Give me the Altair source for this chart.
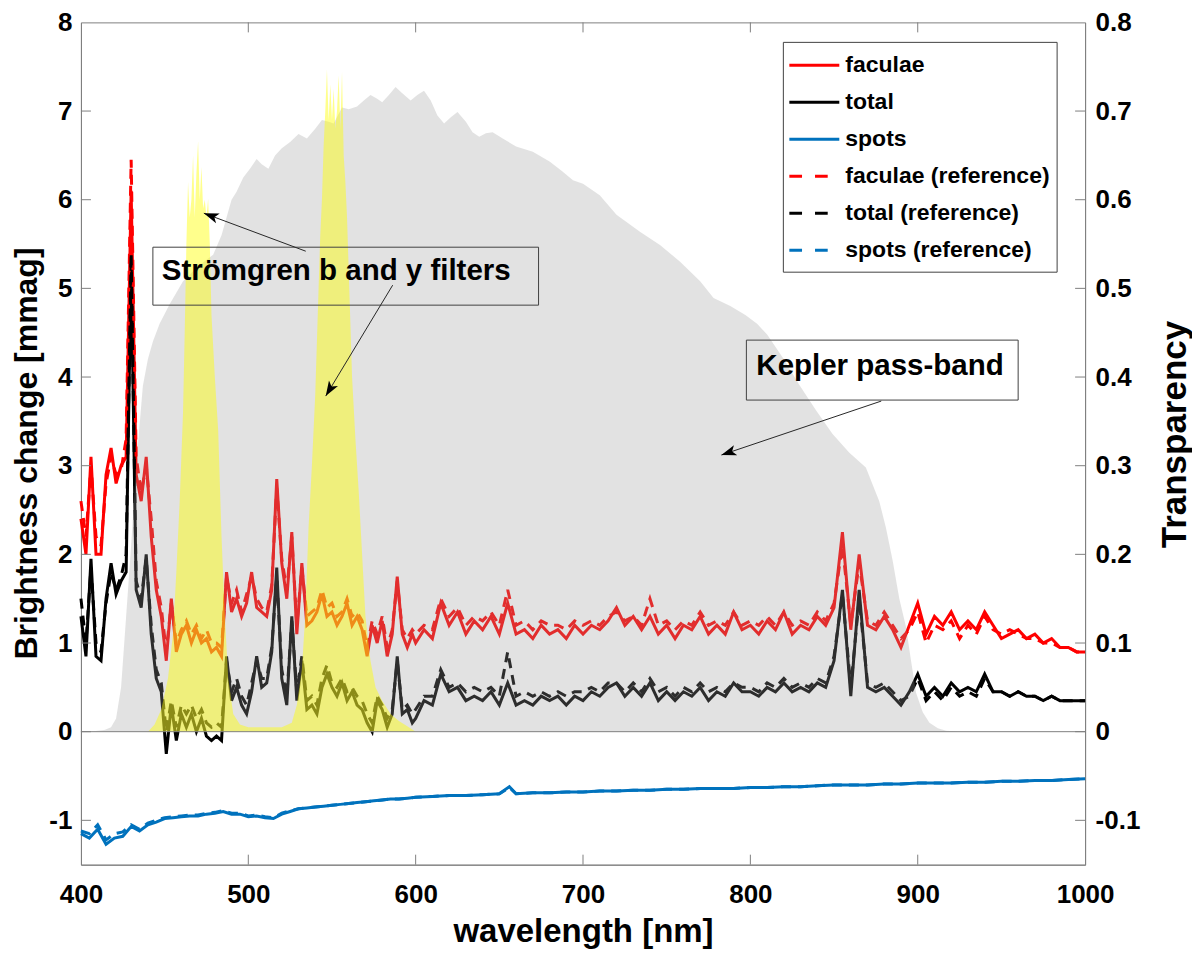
import altair as alt
import pandas as pd

# wavelength grid of the brightness-change curves (nm)
WL = list(range(400, 600, 3)) + list(range(600, 1001, 5))

FACULAE = [
    2.4, 2.0, 3.1, 2.0, 2.0, 2.9, 3.2, 2.8, 3.0, 3.1,
    6.1, 2.9, 2.6, 3.1, 2.2, 1.6, 1.3, 0.8, 1.5, 0.9,
    1.1, 1.2, 1.0, 1.15, 1.0, 1.05, 0.9, 0.95, 0.85, 1.8,
    1.35, 1.5, 1.3, 1.45, 1.8, 1.4, 1.35, 1.3, 1.6, 2.85,
    1.9, 1.5, 2.25, 1.1, 1.9, 1.2, 1.25, 1.35, 1.55, 1.3,
    1.35, 1.2, 1.3, 1.45, 1.2, 1.3, 1.15, 0.85, 1.2, 1.0,
    1.25, 0.85, 1.1, 1.75, 1.1, 0.95, 1.1,
    1.0, 1.15, 1.05, 1.45, 1.2, 1.35, 1.1, 1.25, 1.15, 1.3,
    1.1, 1.45, 1.1, 1.15, 1.05, 1.2, 1.1, 1.15, 1.05, 1.2,
    1.1, 1.2, 1.15, 1.25, 1.4, 1.2, 1.3, 1.15, 1.3, 1.1,
    1.2, 1.05, 1.2, 1.15, 1.3, 1.1, 1.2, 1.1, 1.35, 1.15,
    1.2, 1.1, 1.25, 1.15, 1.35, 1.1, 1.2, 1.15, 1.3, 1.2,
    1.4, 2.25, 1.15, 2.0, 1.2, 1.15, 1.3, 1.15, 0.95, 1.2,
    1.45, 1.1, 1.3, 1.2, 1.35, 1.15, 1.25, 1.15, 1.35, 1.2,
    1.05, 1.1, 1.15, 1.05, 1.1, 1.0, 1.05, 0.95, 0.95, 0.9,
    0.9,
]
TOTAL = [
    1.3, 0.85, 1.95, 0.85, 0.8, 1.5, 1.9, 1.55, 1.7, 1.8,
    5.3, 1.6, 1.4, 2.0, 1.1, 0.6, 0.45, -0.25, 0.3, -0.1,
    0.2, 0.05, 0.2, 0.0, 0.15, -0.05, -0.1, -0.05, -0.1, 0.85,
    0.35, 0.5, 0.3, 0.2, 0.45, 0.85, 0.5, 0.55, 0.9, 1.85,
    0.6, 0.3, 1.3, 0.35, 0.8, 0.25, 0.3, 0.2, 0.5, 0.65,
    0.5, 0.4, 0.55, 0.35, 0.45, 0.3, 0.25, 0.1, 0.0, 0.35,
    0.25, 0.05, 0.2, 0.85, 0.2, 0.25, 0.1,
    0.15, 0.35, 0.3, 0.65, 0.45, 0.5, 0.35, 0.4, 0.35, 0.45,
    0.3, 0.55, 0.3, 0.35, 0.3, 0.4, 0.35, 0.4, 0.3, 0.4,
    0.35, 0.45, 0.4, 0.5, 0.55, 0.4, 0.5, 0.4, 0.55, 0.35,
    0.45, 0.35, 0.45, 0.4, 0.5, 0.35, 0.45, 0.4, 0.55, 0.45,
    0.45, 0.4, 0.5, 0.45, 0.55, 0.45, 0.5, 0.45, 0.55, 0.5,
    0.8, 1.6, 0.4, 1.6, 0.5, 0.45, 0.5, 0.4, 0.3, 0.45,
    0.65, 0.4, 0.5, 0.4, 0.55, 0.45, 0.5, 0.45, 0.65, 0.45,
    0.45, 0.4, 0.45, 0.4, 0.4, 0.35, 0.4, 0.35, 0.35, 0.35,
    0.35,
]
FACULAE_REF = [
    2.6, 2.2, 3.0, 2.2, 2.1, 2.8, 3.1, 2.9, 2.95, 3.3,
    6.45, 3.1, 2.7, 3.0, 2.4, 1.7, 1.4, 0.9, 1.45, 1.0,
    1.15, 1.25, 1.1, 1.2, 1.05, 1.15, 1.0, 1.0, 0.95, 1.75,
    1.45, 1.6, 1.35, 1.55, 1.75, 1.5, 1.4, 1.35, 1.65, 2.75,
    1.95, 1.6, 2.2, 1.2, 1.85, 1.3, 1.35, 1.4, 1.6, 1.4,
    1.45, 1.3, 1.35, 1.5, 1.3, 1.35, 1.25, 0.95, 1.25, 1.1,
    1.3, 0.95, 1.15, 1.7, 1.15, 1.05, 1.15,
    1.1, 1.2, 1.15, 1.5, 1.3, 1.4, 1.2, 1.3, 1.25, 1.35,
    1.2, 1.6, 1.2, 1.25, 1.15, 1.25, 1.2, 1.2, 1.15, 1.25,
    1.2, 1.25, 1.2, 1.3, 1.35, 1.25, 1.3, 1.2, 1.5, 1.2,
    1.25, 1.15, 1.25, 1.2, 1.35, 1.2, 1.25, 1.2, 1.35, 1.2,
    1.25, 1.2, 1.3, 1.2, 1.35, 1.2, 1.25, 1.2, 1.35, 1.25,
    1.45, 2.1, 1.2, 1.9, 1.25, 1.2, 1.35, 1.2, 1.05, 1.15,
    1.35, 1.0, 1.2, 1.15, 1.25, 1.05, 1.2, 1.1, 1.3, 1.15,
    1.1, 1.15, 1.1, 1.05, 1.05, 1.0, 1.0, 0.95, 0.95, 0.9,
    0.9,
]
TOTAL_REF = [
    1.5, 1.0, 1.85, 1.0, 0.9, 1.45, 1.8, 1.6, 1.75, 2.0,
    5.4, 1.7, 1.5, 1.95, 1.2, 0.7, 0.55, 0.0, 0.35, 0.05,
    0.3, 0.2, 0.3, 0.15, 0.25, 0.1, 0.05, 0.1, 0.05, 0.8,
    0.45, 0.6, 0.4, 0.3, 0.55, 0.8, 0.6, 0.6, 0.95, 1.75,
    0.7, 0.4, 1.25, 0.45, 0.85, 0.35, 0.4, 0.3, 0.6, 0.75,
    0.55, 0.5, 0.6, 0.45, 0.5, 0.4, 0.35, 0.2, 0.1, 0.4,
    0.3, 0.15, 0.25, 0.8, 0.25, 0.3, 0.2,
    0.25, 0.4, 0.4, 0.7, 0.5, 0.55, 0.45, 0.5, 0.45, 0.5,
    0.4, 0.9, 0.4, 0.45, 0.4, 0.45, 0.4, 0.45, 0.4, 0.45,
    0.45, 0.5, 0.45, 0.55, 0.55, 0.45, 0.55, 0.45, 0.6, 0.45,
    0.5, 0.4, 0.5, 0.45, 0.55, 0.45, 0.5, 0.45, 0.55, 0.5,
    0.5, 0.45, 0.55, 0.5, 0.6, 0.5, 0.55, 0.5, 0.6, 0.55,
    0.85, 1.55, 0.5, 1.5, 0.55, 0.5, 0.55, 0.45, 0.35, 0.4,
    0.6, 0.35, 0.45, 0.35, 0.5, 0.4, 0.45, 0.4, 0.6, 0.45,
    0.45, 0.4, 0.45, 0.4, 0.4, 0.35, 0.4, 0.35, 0.35, 0.35,
    0.35,
]

# spots are smoother, coarser grid
WL_SPOTS = list(range(400, 601, 5)) + list(range(610, 651, 10)) + [656] + list(range(660, 1001, 10))
SPOTS = [
    -1.15, -1.2, -1.1, -1.27, -1.2, -1.18, -1.07, -1.12, -1.05, -1.02,
    -0.98, -0.97, -0.96, -0.95, -0.95, -0.93, -0.92, -0.9, -0.93, -0.93,
    -0.96, -0.95, -0.97, -0.98, -0.93, -0.9, -0.87, -0.86, -0.85, -0.84,
    -0.83, -0.82, -0.81, -0.8, -0.79, -0.78, -0.77, -0.76, -0.76, -0.75,
    -0.74,
    -0.73, -0.72, -0.72, -0.71, -0.7,
    -0.62,
    -0.7, -0.69, -0.69, -0.68, -0.68, -0.67, -0.67, -0.66, -0.66, -0.65,
    -0.65, -0.64, -0.64, -0.64, -0.63, -0.63, -0.62, -0.62, -0.61, -0.6,
    -0.6, -0.6, -0.59, -0.59, -0.58, -0.58, -0.58, -0.57, -0.57, -0.56,
    -0.56, -0.55, -0.55, -0.54, -0.53,
]
SPOTS_REF = [
    -1.12, -1.15, -1.05, -1.22, -1.15, -1.13, -1.05, -1.1, -1.03, -1.0,
    -0.97, -0.96, -0.95, -0.94, -0.94, -0.92, -0.91, -0.89, -0.92, -0.92,
    -0.95, -0.94, -0.96, -0.97, -0.92, -0.89, -0.87, -0.86, -0.85, -0.84,
    -0.83, -0.82, -0.81, -0.8, -0.79, -0.78, -0.77, -0.76, -0.76, -0.75,
    -0.74,
    -0.73, -0.72, -0.72, -0.71, -0.7,
    -0.63,
    -0.7, -0.69, -0.69, -0.68, -0.68, -0.67, -0.67, -0.66, -0.66, -0.65,
    -0.65, -0.64, -0.64, -0.64, -0.63, -0.63, -0.62, -0.62, -0.61, -0.6,
    -0.6, -0.6, -0.59, -0.59, -0.58, -0.58, -0.58, -0.57, -0.57, -0.56,
    -0.56, -0.55, -0.55, -0.54, -0.53,
]

# transmission curves (right axis)
KEPLER_WL = [
    400, 405, 410, 414, 418, 421, 424, 427, 430, 433, 437, 440, 443, 447, 453,
    461, 470, 479, 484, 487, 490, 493, 497, 501, 505, 508, 512, 516, 520, 525,
    530, 535, 540, 544, 548, 551, 556, 560, 565, 569, 573, 577, 580, 584, 588,
    592, 597, 601, 605, 609, 613, 617, 621, 625, 630, 634, 638, 642, 646, 653,
    660, 670, 680, 687, 694, 700, 710, 720, 734, 746, 758, 770, 778, 788, 797,
    804, 810, 820, 829, 839, 849, 859, 869, 877, 881, 885, 889, 893, 896, 899,
    903, 907, 912, 917, 925, 1000,
]
KEPLER_T = [
    0.0, 0.0, 0.001, 0.002, 0.005, 0.015, 0.05, 0.13, 0.21, 0.30, 0.39, 0.42, 0.44, 0.46, 0.482,
    0.508, 0.525, 0.538, 0.56, 0.58, 0.60, 0.609, 0.625, 0.635, 0.646, 0.64, 0.635, 0.65, 0.658, 0.665,
    0.674, 0.669, 0.68, 0.69, 0.688, 0.686, 0.704, 0.702, 0.705, 0.712, 0.718, 0.714, 0.71, 0.718, 0.727,
    0.72, 0.712, 0.718, 0.723, 0.712, 0.695, 0.686, 0.693, 0.699, 0.688, 0.676, 0.671, 0.675, 0.676, 0.668,
    0.66, 0.654, 0.643, 0.633, 0.622, 0.618, 0.605, 0.583, 0.564, 0.549, 0.53, 0.508, 0.489, 0.48, 0.47,
    0.46, 0.448, 0.42, 0.392, 0.363, 0.336, 0.315, 0.298, 0.26, 0.23, 0.193, 0.15, 0.118, 0.08, 0.044,
    0.022, 0.01, 0.004, 0.001, 0.0, 0.0,
]
B_WL = [
    440, 444, 448, 452, 455, 457, 459, 461, 462, 463, 464, 465, 466, 467, 468,
    469, 470, 471, 472, 473, 474, 475, 476, 477, 478, 480, 482, 484, 486, 488,
    491, 495, 500,
]
B_T = [
    0.0, 0.008, 0.025, 0.06, 0.11, 0.18, 0.26, 0.36, 0.45, 0.55, 0.62, 0.58, 0.6, 0.65, 0.58,
    0.63, 0.666, 0.6, 0.637, 0.59, 0.6, 0.58, 0.601, 0.55, 0.47, 0.4, 0.34, 0.22, 0.13, 0.06,
    0.02, 0.008, 0.005,
]
Y_WL = [
    500, 520, 526, 529, 532, 534, 536, 538, 540, 542, 543, 544, 545, 546, 547,
    548, 549, 550, 551, 552, 553, 554, 555, 556, 557, 558, 559, 560, 562, 564,
    566, 568, 570, 573, 576, 580, 585, 590, 595, 600,
]
Y_T = [
    0.005, 0.005, 0.01, 0.03, 0.07, 0.13, 0.23, 0.3, 0.38, 0.5, 0.56, 0.6, 0.66, 0.7, 0.747,
    0.69, 0.73, 0.69, 0.725, 0.68, 0.7, 0.74, 0.68, 0.744, 0.65, 0.62, 0.58, 0.52, 0.4, 0.33,
    0.27, 0.2, 0.13, 0.08, 0.05, 0.035, 0.02, 0.012, 0.006, 0.0,
]

X_TICKS = [400, 500, 600, 700, 800, 900, 1000]
LEFT_TICKS = [-1, 0, 1, 2, 3, 4, 5, 6, 7, 8]
RIGHT_TICKS = [-0.1, 0.0, 0.1, 0.2, 0.3, 0.4, 0.5, 0.6, 0.7, 0.8]

LEGEND = [
    ("faculae", "#ff0000", False),
    ("total", "#000000", False),
    ("spots", "#0072bd", False),
    ("faculae (reference)", "#ff0000", True),
    ("total (reference)", "#000000", True),
    ("spots (reference)", "#0072bd", True),
]

W, H = 1005, 843
FONT = "Liberation Sans"
AXIS_GRAY = "#808080"
LW = 3.0

lines_df = pd.DataFrame({
    "wl": WL, "faculae": FACULAE, "total": TOTAL,
    "faculae_ref": FACULAE_REF, "total_ref": TOTAL_REF,
})
spots_df = pd.DataFrame({"wl": WL_SPOTS, "spots": SPOTS, "spots_ref": SPOTS_REF})
kepler_df = pd.DataFrame({"wl": KEPLER_WL, "t": KEPLER_T})
b_df = pd.DataFrame({"wl": B_WL, "t": B_T})
y_df = pd.DataFrame({"wl": Y_WL, "t": Y_T})

x_scale = alt.Scale(domain=[400, 1000], nice=False, zero=False, padding=0)
x_axis = alt.Axis(
    values=X_TICKS, format="d", title="wavelength [nm]", ticks=False, grid=False,
    labelFlush=False, labelPadding=17, titleY=77, titleBaseline="alphabetic",
)
left_scale = alt.Scale(domain=[-1.5, 8], nice=False, zero=False, padding=0)
left_axis = alt.Axis(
    orient="left", values=LEFT_TICKS, format="d", title="Brightness change [mmag]",
    labelExpr="replace(datum.label, '\u2212', '-')",
    ticks=False, grid=False, labelFlush=False, labelPadding=9, labelBaseline="middle",
    titleFontSize=32, titleAngle=270, titleX=-44, titleY=431,
    titleBaseline="alphabetic", titleAlign="center",
)
right_scale = alt.Scale(domain=[-0.15, 0.8], nice=False, zero=False, padding=0)
right_axis = alt.Axis(
    orient="right", values=RIGHT_TICKS, format=".1~f", title="Transparency",
    labelExpr="replace(datum.label, '\u2212', '-')",
    ticks=False, grid=False, labelFlush=False, labelPadding=10, labelBaseline="middle",
    titleFontSize=35, titleAngle=270, titleX=100, titleY=412,
    titleBaseline="alphabetic", titleAlign="center",
)

X = alt.X("wl:Q", scale=x_scale, axis=x_axis)


def line(df, field, color, dashed):
    kw = dict(color=color, strokeWidth=LW)
    if dashed:
        kw["strokeDash"] = [10, 7]
    return alt.Chart(df).mark_line(**kw).encode(
        x=X, y=alt.Y(f"{field}:Q", scale=left_scale, axis=left_axis)
    )


tick_df = pd.DataFrame({"t": X_TICKS[1:-1]})
xticks_bottom = alt.Chart(tick_df).mark_rule(color=AXIS_GRAY).encode(
    x=alt.X("t:Q", scale=x_scale, axis=x_axis), y=alt.value(H), y2=alt.value(H - 10))
xticks_top = alt.Chart(tick_df).mark_rule(color=AXIS_GRAY).encode(
    x=alt.X("t:Q", scale=x_scale, axis=x_axis), y=alt.value(0), y2=alt.value(10))
lticks = alt.Chart(pd.DataFrame({"v": LEFT_TICKS[:-1]})).mark_rule(color=AXIS_GRAY).encode(
    y=alt.Y("v:Q", scale=left_scale, axis=left_axis), x=alt.value(0), x2=alt.value(10))

left_group = alt.layer(
    line(lines_df, "faculae", "#ff0000", False),
    line(lines_df, "total", "#000000", False),
    line(spots_df, "spots", "#0072bd", False),
    line(lines_df, "faculae_ref", "#ff0000", True),
    line(lines_df, "total_ref", "#000000", True),
    line(spots_df, "spots_ref", "#0072bd", True),
    xticks_bottom, xticks_top, lticks,
)


def band(df, color, opacity):
    return alt.Chart(df).mark_area(color=color, opacity=opacity).encode(
        x=X, y=alt.Y("t:Q", scale=right_scale, axis=right_axis)
    )


zero_line = alt.Chart(pd.DataFrame({"v": [0.0]})).mark_rule(color=AXIS_GRAY).encode(
    y=alt.Y("v:Q", scale=right_scale, axis=right_axis), x=alt.value(0), x2=alt.value(W))
rticks = alt.Chart(pd.DataFrame({"v": RIGHT_TICKS[:-1]})).mark_rule(color=AXIS_GRAY).encode(
    y=alt.Y("v:Q", scale=right_scale, axis=right_axis), x=alt.value(W), x2=alt.value(W - 10))

right_group = alt.layer(
    band(kepler_df, "#9b9b9b", 0.29),
    band(b_df, "#ffff00", 0.45),
    band(y_df, "#ffff00", 0.45),
    zero_line, rticks,
)

# annotations, legend: placed in pixels
one = pd.DataFrame({"k": [0]})


def box(x1, y1, x2, y2, fill_opacity=0.0):
    return alt.Chart(one).mark_rect(fill="white", fillOpacity=fill_opacity,
                                    stroke="#404040", strokeWidth=1).encode(
        x=alt.value(x1), y=alt.value(y1), x2=alt.value(x2), y2=alt.value(y2))


def label(text, x, y, size, baseline="alphabetic"):
    return alt.Chart(one).mark_text(
        text=text, font=FONT, fontWeight="bold", fontSize=size, align="left",
        baseline=baseline, color="black",
    ).encode(x=alt.value(x), y=alt.value(y))


ARROW_HEAD = "M0,0 L0.7,2 L0,1.5 L-0.7,2 Z"


def arrow(x0, y0, x1, y1, angle):
    shaft = alt.Chart(one).mark_rule(color="#262626", strokeWidth=1).encode(
        x=alt.value(x0), y=alt.value(y0), x2=alt.value(x1), y2=alt.value(y1))
    head = alt.Chart(one).mark_point(
        shape=ARROW_HEAD, size=225, filled=True, color="black", opacity=1, angle=angle,
    ).encode(x=alt.value(x1), y=alt.value(y1))
    return shaft + head


# pixel offsets below are relative to the plot origin (page 81, 22)
annotations = [
    box(72, 225, 458, 283),
    label("Strömgren b and y filters", 81, 258, 29.5),
    arrow(225, 229, 123, 191, 290.4),
    arrow(312, 263, 245, 374, 211.1),
    box(666, 318, 938, 378),
    label("Kepler pass-band", 676, 353, 29.5),
    arrow(801, 379, 641, 433, 251.4),
    box(703, 20, 977, 250, fill_opacity=1.0),
]
for i, (name, color, dashed) in enumerate(LEGEND):
    ry = 43 + 37 * i
    kw = dict(color=color, strokeWidth=LW)
    if dashed:
        kw["strokeDash"] = [12.7, 13]
    annotations.append(alt.Chart(one).mark_rule(**kw).encode(
        x=alt.value(709), x2=alt.value(759), y=alt.value(ry)))
    annotations.append(label(name, 765, ry, 23, baseline="middle"))

chart = (
    alt.layer(left_group, right_group, *annotations)
    .resolve_scale(y="independent")
    .properties(
        width=W, height=H,
        autosize=alt.AutoSizeParams(type="none"),
        padding={"left": 73, "top": 14, "right": 107, "bottom": 85},
    )
    .configure_view(stroke=AXIS_GRAY, strokeWidth=1)
    .configure_axis(
        labelFont=FONT, labelFontWeight="bold", labelFontSize=26, labelColor="#000000",
        titleFont=FONT, titleFontWeight="bold", titleFontSize=33, titleColor="#000000",
        domainColor=AXIS_GRAY, domainWidth=1,
    )
)

chart.save("out.html", embed_options={"renderer": "svg", "actions": False})
